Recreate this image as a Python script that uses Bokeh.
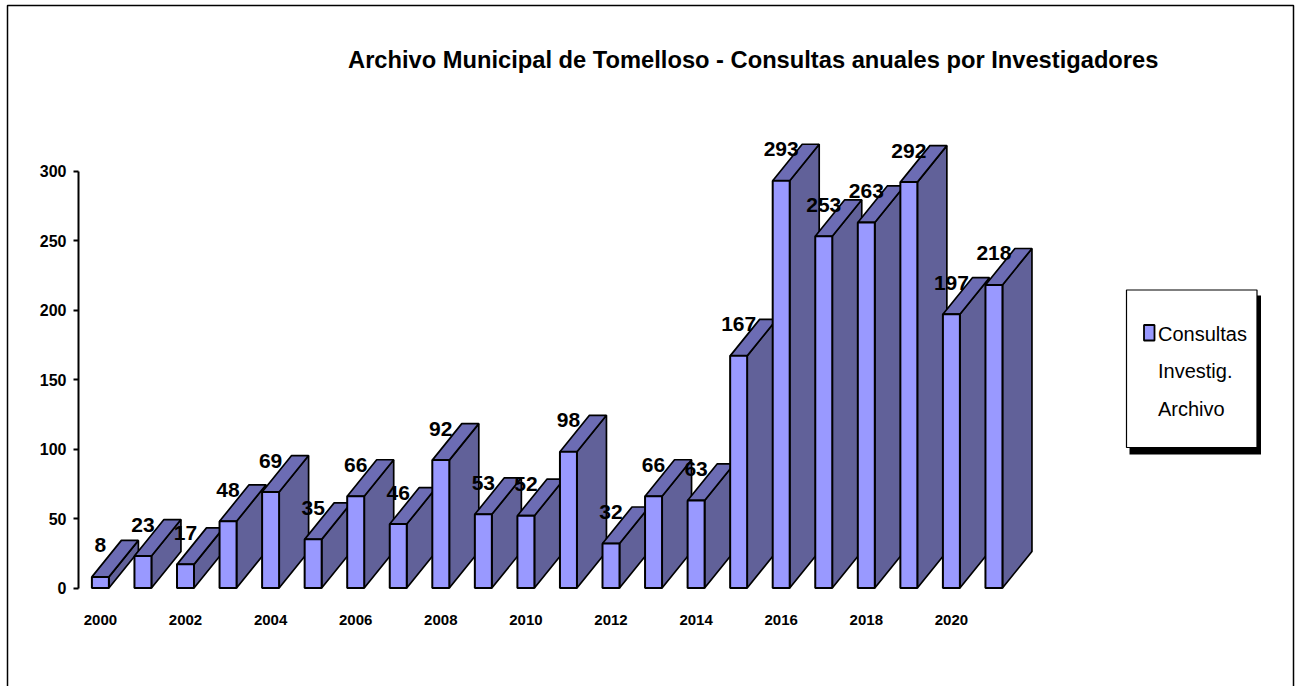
from bokeh.plotting import figure
from bokeh.models import BoxAnnotation, Label, FixedTicker, Range1d
from bokeh.core.properties import value
from bokeh.embed import file_html
from bokeh.resources import INLINE

TITLE = "Archivo Municipal de Tomelloso  - Consultas anuales por Investigadores"
YEARS = list(range(2000, 2022))
CONSULTAS = [8, 23, 17, 48, 69, 35, 66, 46, 92, 53, 52, 98, 32, 66, 63, 167, 293, 253, 263, 292, 197, 218]
YTICKS = [0, 50, 100, 150, 200, 250, 300]
XTICKS = [2000, 2002, 2004, 2006, 2008, 2010, 2012, 2014, 2016, 2018, 2020]
LEGEND_LINES = ["Consultas", "Investig.", "Archivo"]

FONT = "Liberation Sans"
W, H = 1301, 686
PX_PER_YEAR = 42.55
PX_PER_UNIT = 1.39
BAR = 17 / PX_PER_YEAR
DX = 29.5 / PX_PER_YEAR
DY = 36.5 / PX_PER_UNIT
FL, FB = 78, 587.5

def X(px):
    return 2000 + (px - 99.9) / PX_PER_YEAR

def Y(px):
    return (FB - px) / PX_PER_UNIT

p = figure(width=W, height=H, output_backend="svg", toolbar_location=None,
           x_range=Range1d(X(0), X(W)), y_range=Range1d(Y(H), Y(0)),
           min_border_left=0, min_border_right=0, min_border_top=0, min_border_bottom=0,
           margin=(0, 0, 0, 0), outline_line_color=None)
p.grid.visible = False

for y, v in zip(YEARS, CONSULTAS):
    l, r = y - BAR / 2, y + BAR / 2
    p.patch([r, r + DX, r + DX, r], [0, DY, v + DY, v], fill_color="#616199", line_color="black", line_width=1.7)
    p.patch([l, l + DX, r + DX, r], [v, v + DY, v + DY, v], fill_color="#6C6CB4", line_color="black", line_width=1.7)
    p.quad(left=[l], right=[r], bottom=[0], top=[v], fill_color="#9999FF", line_color="black", line_width=2)

p.text(x=YEARS, y=CONSULTAS, text=[str(v) for v in CONSULTAS], text_align="center", text_baseline="middle",
       y_offset=-31.5, text_font=value(FONT), text_font_style="bold", text_font_size="21px", text_color="black")

ya = p.yaxis[0]
ya.fixed_location = X(FL)
ya.ticker = FixedTicker(ticks=YTICKS)
ya.bounds = (0, 300)
ya.axis_line_color = "black"; ya.axis_line_width = 2
ya.major_tick_line_color = "black"; ya.major_tick_line_width = 2
ya.major_tick_in = 0; ya.major_tick_out = 5; ya.minor_tick_line_color = None
ya.major_label_standoff = 7
ya.major_label_text_font = FONT; ya.major_label_text_font_style = "bold"
ya.major_label_text_font_size = "16px"; ya.major_label_text_color = "black"

xa = p.xaxis[0]
xa.fixed_location = 0
xa.ticker = FixedTicker(ticks=XTICKS)
xa.axis_line_color = None; xa.major_tick_line_color = None; xa.minor_tick_line_color = None
xa.major_label_standoff = 21
xa.major_label_text_font = FONT; xa.major_label_text_font_style = "bold"
xa.major_label_text_font_size = "15px"; xa.major_label_text_color = "black"

def box(l, r, t, b, fill, line=None, lw=1.5):
    a = BoxAnnotation(left=X(l), right=X(r), top=Y(t), bottom=Y(b), fill_color=fill,
                      fill_alpha=1 if fill else 0, line_color=line, line_width=lw,
                      line_alpha=1 if line else 0, level="overlay")
    p.add_layout(a)

def label(x, y, text, size, style="normal", align="left"):
    p.add_layout(Label(x=X(x), y=Y(y), text=text, text_font=FONT,
                       text_font_style=style, text_font_size=size, text_color="black",
                       text_align=align, text_baseline="middle", level="overlay"))

box(7, 1293, 5, 720, None, "black", 1.5)
label(756, 59, TITLE, "23.7px", "bold", "center")
box(1129, 1260.5, 295, 454, "black")
box(1126, 1256.5, 289.5, 447, "white", "black", 1.2)
box(1143.5, 1154, 324.5, 340, "#9999FF", "black", 1.8)
for t, yy in zip(LEGEND_LINES, [333, 370, 408]):
    label(1157.5, yy, t, "20px")

open("out.html", "w").write(file_html(p, INLINE))
